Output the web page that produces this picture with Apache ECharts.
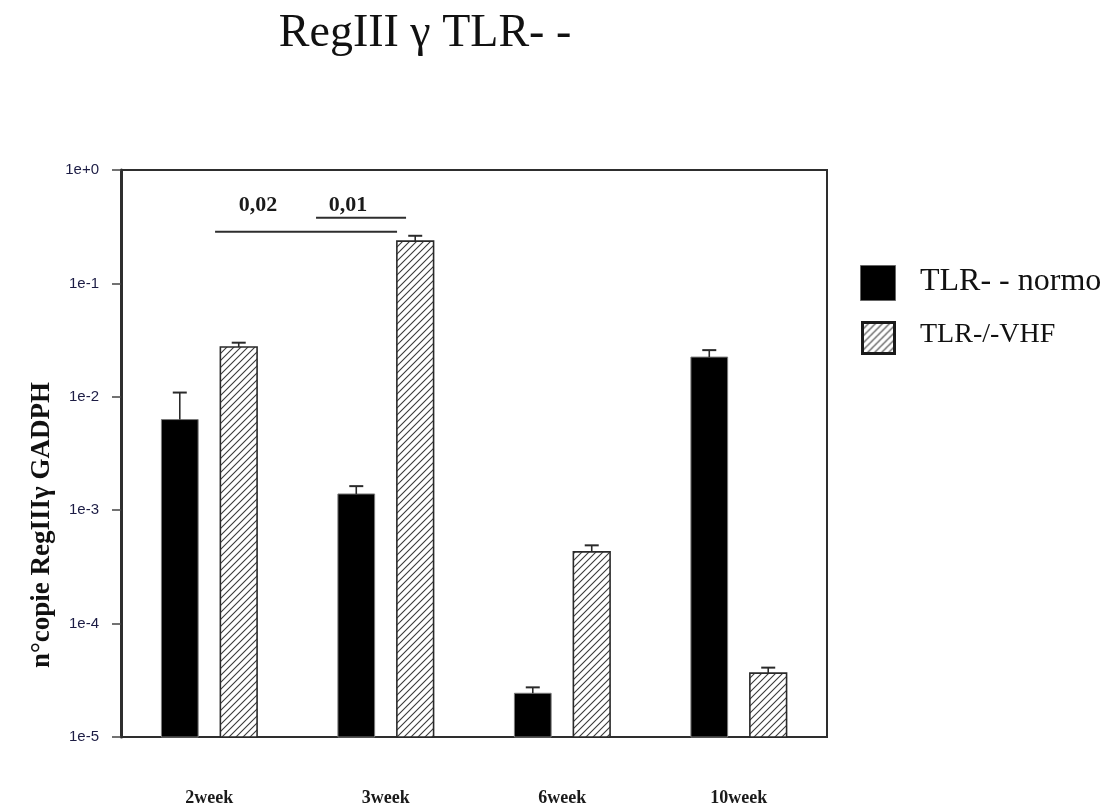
<!DOCTYPE html>
<html>
<head>
<meta charset="utf-8">
<script src="https://cdn.jsdelivr.net/npm/echarts@6/dist/echarts.min.js"></script>
<style>
  html, body { margin: 0; padding: 0; background: #fff; }
  #chart { width: 1111px; height: 809px; }
</style>
</head>
<body>
<div id="chart"></div>
<script>
// Time points
const categories = ['2week', '3week', '6week', '10week'];

// Group names
const seriesNames = ['TLR- - normo', 'TLR-/-VHF'];

// Mean copy numbers and the upper end of each error bar
const normoMean  = [0.0063, 0.00139, 2.43e-5, 0.0224];
const normoUpper = [0.0109, 0.00163, 2.74e-5, 0.0258];
const vhfMean    = [0.0275, 0.236, 4.29e-4, 3.66e-5];
const vhfUpper   = [0.0300, 0.263, 4.90e-4, 4.09e-5];

// Y axis tick labels, one per decade from 1e-5 to 1e+0
const tickLabels = ['1e-5', '1e-4', '1e-3', '1e-2', '1e-1', '1e+0'];

// Significance brackets (positions in category units, heights in data units)
const sigLabels    = ['0,02', '0,01'];
const sigFrom      = [0.033, 0.605];
const sigTo        = [1.064, 1.115];
const sigLevel     = [0.285, 0.38];
const sigTextPos   = [0.276, 0.786];
const sigTextLevel = [0.486, 0.486];

const SERIF = '"Liberation Serif", "Times New Roman", serif';
const SANS = '"Liberation Sans", Arial, sans-serif';

// Diagonal hatch tile for the VHF bars
function hatchTile() {
  const c = document.createElement('canvas');
  const s = 7;
  c.width = s; c.height = s;
  const ctx = c.getContext('2d');
  ctx.fillStyle = '#ffffff';
  ctx.fillRect(0, 0, s, s);
  ctx.strokeStyle = '#3a3a3a';
  ctx.lineWidth = 1.1;
  ctx.beginPath();
  ctx.moveTo(-1, s + 1); ctx.lineTo(s + 1, -1);
  ctx.moveTo(-1, 1); ctx.lineTo(1, -1);
  ctx.moveTo(s - 1, s + 1); ctx.lineTo(s + 1, s - 1);
  ctx.stroke();
  return c;
}
const hatch = { image: hatchTile(), repeat: 'repeat' };

const FLOOR = Math.pow(10, -5);

// Bars with upward error whiskers, drawn on the log value axis
function barRenderer(side, fillStyle) {
  return function (params, api) {
    const cat = api.value(0);
    const mean = api.value(1);
    const upper = api.value(2);
    const band = api.size([1, 0], [cat, 1e-3])[0];
    const center = api.coord([cat, mean]);
    const base = api.coord([cat, FLOOR]);
    const top = api.coord([cat, upper]);
    const w = band * 0.208;
    const cx = center[0] + side * band * 0.167;
    const cap = 14;
    return {
      type: 'group',
      children: [
        {
          type: 'rect',
          shape: { x: cx - w / 2, y: center[1], width: w, height: base[1] - center[1] },
          style: fillStyle
        },
        {
          type: 'line',
          shape: { x1: cx, y1: center[1], x2: cx, y2: top[1] },
          style: { stroke: '#2a2a2a', lineWidth: 1.6 }
        },
        {
          type: 'line',
          shape: { x1: cx - cap / 2, y1: top[1], x2: cx + cap / 2, y2: top[1] },
          style: { stroke: '#2a2a2a', lineWidth: 2 }
        }
      ]
    };
  };
}

function sigRenderer(params, api) {
  const i = params.dataIndex;
  const origin = api.coord([0, sigLevel[i]]);
  const band = api.size([1, 0], [0, 1e-3])[0];
  const y = origin[1];
  const ty = api.coord([0, sigTextLevel[i]])[1];
  return {
    type: 'group',
    children: [
      {
        type: 'line',
        shape: { x1: origin[0] + sigFrom[i] * band, y1: y, x2: origin[0] + sigTo[i] * band, y2: y },
        style: { stroke: '#2e2e2e', lineWidth: 2 }
      },
      {
        type: 'text',
        x: origin[0] + sigTextPos[i] * band,
        y: ty,
        style: {
          text: sigLabels[i],
          font: 'bold 22px ' + SERIF,
          fill: '#1a1a1a',
          align: 'center',
          verticalAlign: 'middle'
        }
      }
    ]
  };
}

const chart = echarts.init(document.getElementById('chart'), null, { renderer: 'canvas' });

chart.setOption({
  backgroundColor: '#ffffff',
  animation: false,
  title: {
    text: 'RegIII γ TLR- -',
    left: 420,
    top: 6,
    textAlign: 'center',
    textStyle: { fontFamily: SERIF, fontSize: 46, fontWeight: 'normal', color: '#111' }
  },
  grid: {
    left: 121, right: 284, top: 170, bottom: 72,
    show: true,
    borderColor: '#2e2e2e',
    borderWidth: 2,
    backgroundColor: 'transparent'
  },
  xAxis: {
    type: 'category',
    data: categories,
    axisLine: { lineStyle: { color: '#2e2e2e', width: 2 } },
    axisTick: { show: false },
    axisLabel: {
      margin: 52,
      fontFamily: SERIF,
      fontWeight: 'bold',
      fontSize: 18,
      color: '#1a1a1a'
    }
  },
  yAxis: {
    type: 'log',
    logBase: 10,
    min: 1e-5,
    max: 1,
    interval: 1,
    axisLine: { show: true, lineStyle: { color: '#2e2e2e', width: 3 } },
    axisTick: { show: true, inside: false, length: 9, lineStyle: { color: '#444', width: 1.5 } },
    splitLine: { show: false },
    minorTick: { show: false },
    axisLabel: {
      margin: 22,
      fontFamily: SANS,
      fontSize: 15,
      color: '#1c1c44',
      formatter: function (v) {
        const k = Math.round(Math.log10(v)) + 5;
        return tickLabels[k] || '';
      }
    }
  },
  series: [
    {
      name: seriesNames[0],
      type: 'custom',
      renderItem: barRenderer(-1, { fill: '#000000', stroke: '#7a7a7a', lineWidth: 1 }),
      encode: { x: 0, y: 1 },
      data: categories.map((c, i) => [i, normoMean[i], normoUpper[i]]),
      z: 3
    },
    {
      name: seriesNames[1],
      type: 'custom',
      renderItem: barRenderer(1, { fill: hatch, stroke: '#2a2a2a', lineWidth: 1.6 }),
      encode: { x: 0, y: 1 },
      data: categories.map((c, i) => [i, vhfMean[i], vhfUpper[i]]),
      z: 3
    },
    {
      name: 'significance',
      type: 'custom',
      renderItem: sigRenderer,
      encode: { x: 0, y: 1 },
      data: sigLabels.map((l, i) => [0, sigLevel[i]]),
      z: 4
    }
  ],
  graphic: [
    // y axis title
    {
      type: 'text',
      x: 42, y: 525,
      rotation: Math.PI / 2,
      style: {
        text: 'n°copie RegIIIγ GADPH',
        font: 'bold 27px ' + SERIF,
        fill: '#111',
        align: 'center',
        verticalAlign: 'middle'
      }
    },
    // legend
    { type: 'rect', left: 860, top: 265, shape: { width: 35, height: 35 }, style: { fill: '#000', stroke: '#666', lineWidth: 1 } },
    { type: 'text', left: 920, top: 266, style: { text: seriesNames[0], font: '32px ' + SERIF, fill: '#111' } },
    { type: 'rect', left: 861, top: 321, shape: { width: 32, height: 31 }, style: { fill: hatch, stroke: '#1a1a1a', lineWidth: 3 } },
    { type: 'text', left: 920, top: 321, style: { text: seriesNames[1], font: '28px ' + SERIF, fill: '#111' } }
  ]
});
</script>
</body>
</html>
